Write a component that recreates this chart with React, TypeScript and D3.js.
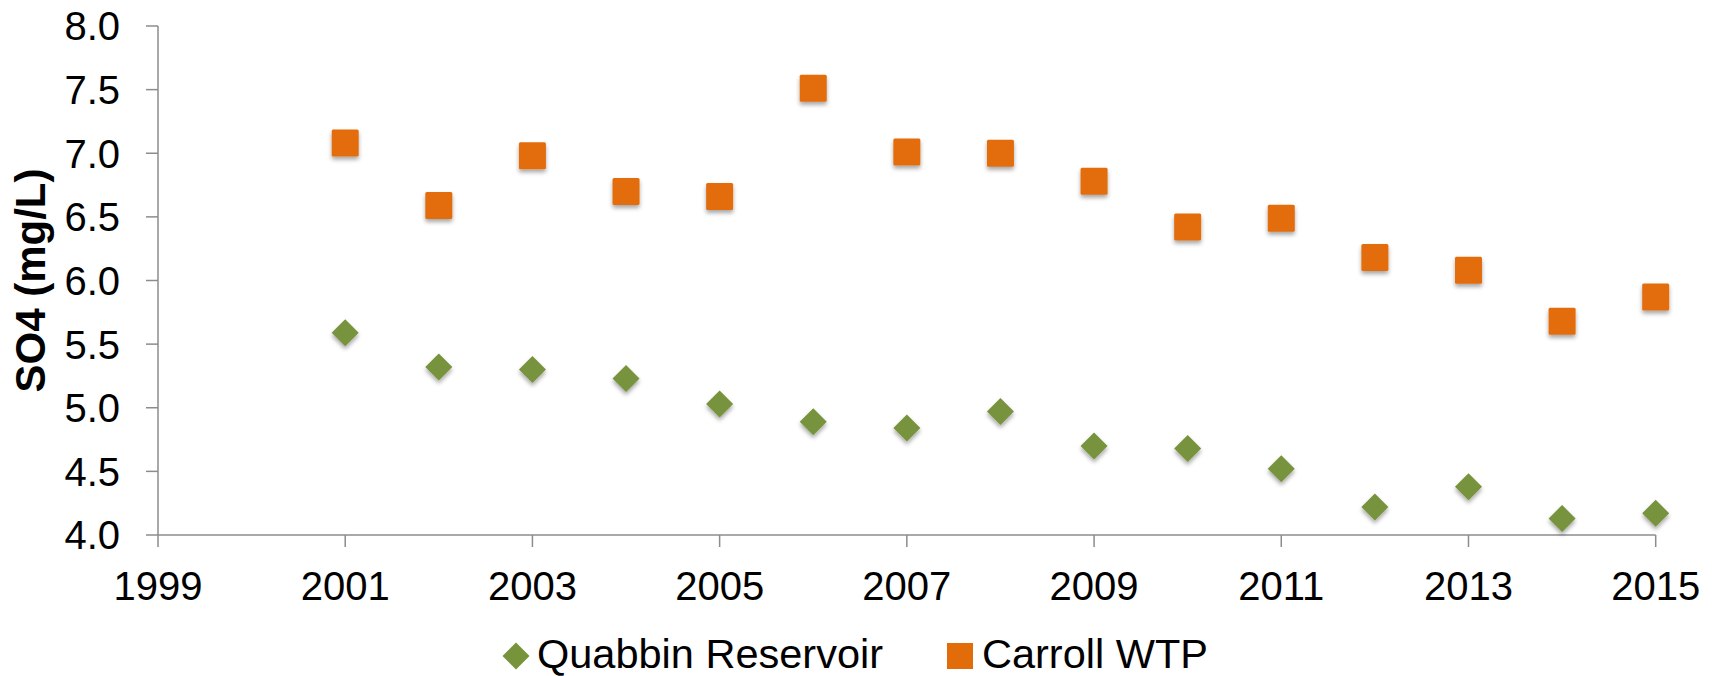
import React from "react";
import * as d3 from "d3";

const years = [2001, 2002, 2003, 2004, 2005, 2006, 2007, 2008, 2009, 2010, 2011, 2012, 2013, 2014, 2015];
const quabbin = [5.59, 5.32, 5.3, 5.23, 5.03, 4.89, 4.84, 4.97, 4.7, 4.68, 4.52, 4.22, 4.38, 4.13, 4.17];
const carroll = [7.08, 6.59, 6.98, 6.7, 6.66, 7.51, 7.01, 7.0, 6.78, 6.42, 6.49, 6.18, 6.08, 5.68, 5.87];
const xTicks = [1999, 2001, 2003, 2005, 2007, 2009, 2011, 2013, 2015];
const yTicks = [4.0, 4.5, 5.0, 5.5, 6.0, 6.5, 7.0, 7.5, 8.0];
const seriesNames = ["Quabbin Reservoir", "Carroll WTP"];

const W = 1726;
const H = 676;
const left = 158;
const right = 1655.7;
const top = 26;
const bottom = 535;
const green = "#77933C";
const orange = "#E36C0A";
const axisColor = "#8c8c8c";
const font = "'Liberation Sans', Arial, sans-serif";

export default function App() {
  const x = d3.scaleLinear().domain([1999, 2015]).range([left, right]);
  const y = d3.scaleLinear().domain([4, 8]).range([bottom, top]);
  const sq = 27;
  const dm = 13.5;
  const diamond = (cx: number, cy: number) =>
    `M${cx},${cy - dm}L${cx + dm},${cy}L${cx},${cy + dm}L${cx - dm},${cy}Z`;

  return (
    <svg
      width={W}
      height={H}
      style={{ position: "absolute", left: 0, top: 0, background: "#fff" }}
      fontFamily={font}
    >
      <defs>
        <filter id="shadow" x="-50%" y="-50%" width="200%" height="200%">
          <feDropShadow dx="0" dy="3" stdDeviation="2" floodColor="#000" floodOpacity="0.35" />
        </filter>
      </defs>
      <rect width={W} height={H} fill="#fff" />
      {/* y axis */}
      <line x1={left} x2={left} y1={top} y2={bottom} stroke={axisColor} strokeWidth={1.5} />
      {yTicks.map((t) => (
        <g key={"y" + t}>
          <line x1={left - 12} x2={left} y1={y(t)} y2={y(t)} stroke={axisColor} strokeWidth={1.5} />
          <text x={120} y={y(t)} dy="0.36em" textAnchor="end" fontSize={40} fill="#000">
            {t.toFixed(1)}
          </text>
        </g>
      ))}
      {/* x axis */}
      <line x1={left} x2={right} y1={bottom} y2={bottom} stroke={axisColor} strokeWidth={1.5} />
      {xTicks.map((t) => (
        <g key={"x" + t}>
          <line x1={x(t)} x2={x(t)} y1={bottom} y2={bottom + 12} stroke={axisColor} strokeWidth={1.5} />
          <text x={x(t)} y={600} textAnchor="middle" fontSize={40} fill="#000">
            {t}
          </text>
        </g>
      ))}
      {/* y title */}
      <text
        transform={`translate(45,${(top + bottom) / 2}) rotate(-90)`}
        textAnchor="middle"
        fontSize={42}
        fontWeight="bold"
        fill="#000"
      >
        SO4 (mg/L)
      </text>
      {/* Carroll squares */}
      <g filter="url(#shadow)">
        {years.map((yr, i) => (
          <rect
            key={"c" + yr}
            x={x(yr) - sq / 2}
            y={y(carroll[i]) - sq / 2}
            width={sq}
            height={sq}
            rx={1.5}
            fill={orange}
          />
        ))}
      </g>
      {/* Quabbin diamonds */}
      <g filter="url(#shadow)">
        {years.map((yr, i) => (
          <path key={"q" + yr} d={diamond(x(yr), y(quabbin[i]))} fill={green} />
        ))}
      </g>
      {/* legend */}
      <path d={diamond(516, 656)} fill={green} />
      <text x={537} y={668} fontSize={41.5} fill="#000">
        {seriesNames[0]}
      </text>
      <rect x={960 - 13} y={656 - 13} width={26} height={26} fill={orange} />
      <text x={982} y={668} fontSize={41.5} fill="#000">
        {seriesNames[1]}
      </text>
    </svg>
  );
}
